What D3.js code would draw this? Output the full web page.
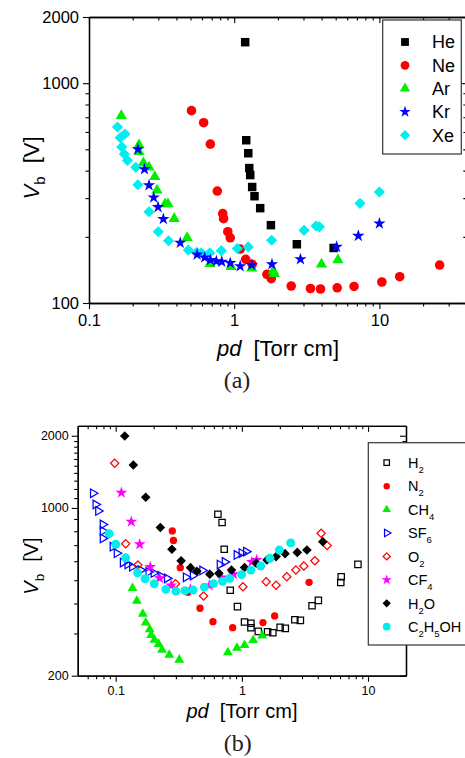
<!DOCTYPE html>
<html>
<head>
<meta charset="utf-8">
<script src="https://cdn.jsdelivr.net/npm/d3@7"></script>
<style>
  html, body { margin: 0; padding: 0; background: #fff; }
  svg { display: block; }
  text { font-family: "Liberation Sans", Arial, Helvetica, sans-serif; fill: #000; }
</style>
</head>
<body>
<svg id="fig" width="465" height="758"></svg>
<script>
// ---------- panel (a): rare gases, [pd (Torr cm), Vb (V)] ----------
const he = [[1.19,1536],[1.21,550],[1.25,480],[1.27,411],[1.29,382],[1.33,337],[1.38,306],[1.51,270],[1.79,226],[2.70,185],[4.84,178]];
const ne = [[0.508,750],[0.616,661],[0.685,528],[0.765,323],[0.834,255],[0.845,242],[0.903,211],[0.939,198],[1.10,176],[1.20,158],[1.33,150],[1.68,135],[1.80,129],[2.47,119.5],[3.35,116.4],[3.93,115.8],[5.12,117.3],[6.69,118.9],[10.4,124.6],[13.8,131.7],[26.0,148.8]];
const ar = [[0.167,711],[0.221,523],[0.221,487],[0.237,433],[0.259,415],[0.284,375],[0.294,326],[0.334,282],[0.350,282],[0.386,242],[0.474,198],[0.682,151],[0.953,146],[1.32,144],[1.86,140],[1.89,136],[3.99,150],[5.18,157]];
const kr = [[0.217,501],[0.241,406],[0.259,343],[0.279,302],[0.299,273],[0.325,241],[0.425,188],[0.555,166],[0.626,161],[0.685,157],[0.753,155],[0.821,154],[0.939,152],[1.10,147],[1.32,149],[1.82,150],[2.86,158],[5.07,180],[7.16,202],[10.0,230]];
const xe = [[0.157,632],[0.177,587],[0.164,565],[0.168,513],[0.175,476],[0.184,445],[0.210,414],[0.217,345],[0.259,260],[0.300,211],[0.353,192],[0.483,174],[0.552,170],[0.594,169],[0.679,169],[0.815,173],[1.05,177],[1.25,180],[1.81,193],[3.03,214],[3.66,224],[3.86,222],[7.35,284],[10.0,320]];

// ---------- panel (b): molecular gases ----------
const h2 = [[0.646,941],[0.697,870],[0.725,673],[0.809,454],[0.923,388],[1.05,335],[1.18,331],[1.18,317],[1.35,306],[1.60,305],[1.76,302],[2.01,318],[2.21,315],[2.63,342],[2.91,340],[3.60,391],[4.04,412],[6.08,489],[6.13,517],[8.32,582]];
const n2 = [[0.281,802],[0.287,732],[0.325,564],[0.374,445],[0.466,382],[0.590,336],[0.846,317],[1.47,333],[1.82,355],[3.41,490]];
const ch4 = [[0.136,463],[0.147,410],[0.164,362],[0.173,333],[0.186,312],[0.191,295],[0.203,282],[0.219,271],[0.233,256],[0.266,244],[0.319,233],[0.775,250],[0.915,261],[1.05,268],[1.23,281],[1.45,294]];
const sf6 = [[0.0661,1151],[0.0693,1034],[0.0727,972],[0.079,854],[0.079,802],[0.079,747],[0.0947,690],[0.102,648],[0.114,592],[0.124,582],[0.135,569],[0.158,551],[0.182,541],[0.200,536],[0.227,521],[0.255,509],[0.360,514],[0.409,523],[0.486,549],[0.668,581],[0.732,596],[0.910,637],[0.996,649],[1.08,658]];
const o2 = [[0.0982,1536],[0.120,710],[0.150,579],[0.298,483],[0.497,430],[1.02,470],[1.56,493],[1.87,476],[2.27,517],[2.68,551],[3.10,573],[3.79,602],[4.25,784],[4.74,697]];
const cf4 = [[0.111,1158],[0.133,877],[0.155,706],[0.188,568],[0.223,510],[0.275,475],[0.391,458],[0.552,476],[0.690,513],[0.859,530],[1.20,596],[1.31,607]];
const h2o = [[0.118,1995],[0.138,1511],[0.173,1108],[0.226,829],[0.279,673],[0.330,602],[0.392,564],[0.440,545],[0.557,530],[0.658,534],[0.828,551],[1.05,565],[1.30,588],[1.58,607],[1.87,627],[2.20,645],[2.75,653],[3.28,668],[4.38,724]];
const c2h5oh = [[0.0889,781],[0.100,706],[0.120,620],[0.149,537],[0.171,507],[0.202,483],[0.250,458],[0.300,450],[0.354,452],[0.411,455],[0.504,468],[0.596,484],[0.703,494],[0.801,509],[0.996,527],[1.18,551],[1.41,573],[1.67,617],[1.98,668],[2.44,715]];

// ---------- axis ticks ----------
const topXTicks = [0.1, 1, 10];
const topYTicks = [100, 1000, 2000];
const topXMinor = [0.2,0.3,0.4,0.5,0.6,0.7,0.8,0.9,2,3,4,5,6,7,8,9,20,30];
const topYMinor = [200,300,400,500,600,700,800,900];
const botXTicks = [0.1, 1, 10];
const botYTicks = [200, 1000, 2000];
const botXMinor = [0.06,0.07,0.08,0.09,0.2,0.3,0.4,0.5,0.6,0.7,0.8,0.9,2,3,4,5,6,7,8,9];
const botYMinor = [300,400,500,600,700,800,900,1100,1200,1300,1400,1500,1600,1700,1800,1900];

const svg = d3.select("#fig");

const symbolTypes = {
  square: d3.symbolSquare, diamond: d3.symbolSquare, circle: d3.symbolCircle,
  triangle: d3.symbolTriangle, triRight: d3.symbolTriangle, star: d3.symbolStar
};
const symbolRot = { diamond: 45, triRight: 90 };

function markerPath(shape, size) { return d3.symbol(symbolTypes[shape], size)(); }

function placeMarker(sel, s, size) {
  sel.attr("d", markerPath(s.shape, size))
     .attr("fill", s.open ? "none" : s.color)
     .attr("stroke", s.open ? s.color : "none")
     .attr("stroke-width", s.open ? 1.25 : 0);
}

function panel(p) {
  const x = d3.scaleLog().domain(p.xDomain).range([p.left, p.right]);
  const y = d3.scaleLog().domain(p.yDomain).range([p.bottom, p.top]);
  const g = svg.append("g");

  // data markers, painted in the given stacking order
  const marks = g.append("g");
  const order = p.drawOrder || p.series.map(s => s.name);
  order.map(n => p.series.find(s => s.name === n)).forEach(s => {
    marks.append("g").selectAll("path").data(s.data).join("path")
      .call(placeMarker, s, s.size)
      .attr("transform", d => `translate(${x(d[0])},${y(d[1])}) rotate(${symbolRot[s.shape] || 0})`);
  });

  // frame with outward ticks on bottom/left and inward mirrored ticks on top/right
  const ax = (gen, tx, ty) => g.append("g").attr("transform", `translate(${tx},${ty})`).call(gen);
  const fmt = d => String(d);
  const axes = [
    ax(d3.axisBottom(x).tickValues(p.xTicks).tickFormat(fmt).tickSize(6).tickSizeOuter(0).tickPadding(p.xPad), 0, p.bottom),
    ax(d3.axisBottom(x).tickValues(p.xMinor).tickFormat("").tickSize(3.5).tickSizeOuter(0), 0, p.bottom),
    ax(d3.axisTop(x).tickValues(p.xTicks).tickFormat("").tickSize(-6).tickSizeOuter(0), 0, p.top),
    ax(d3.axisTop(x).tickValues(p.xMinor).tickFormat("").tickSize(-3.5).tickSizeOuter(0), 0, p.top),
    ax(d3.axisLeft(y).tickValues(p.yTicks).tickFormat(fmt).tickSize(6).tickSizeOuter(0).tickPadding(p.yPad), p.left, 0),
    ax(d3.axisLeft(y).tickValues(p.yMinor).tickFormat("").tickSize(3.5).tickSizeOuter(0), p.left, 0),
    ax(d3.axisRight(y).tickValues(p.yTicks).tickFormat("").tickSize(-6).tickSizeOuter(0), p.right, 0),
    ax(d3.axisRight(y).tickValues(p.yMinor).tickFormat("").tickSize(-3.5).tickSizeOuter(0), p.right, 0)
  ];
  axes.forEach(a => {
    a.attr("font-family", null).attr("font-size", null);
    a.select(".domain").attr("stroke", "#000").attr("stroke-width", 1.3);
    a.selectAll(".tick line").attr("stroke", "#000").attr("stroke-width", 1.1);
    a.selectAll(".tick text").attr("fill", "#000").style("font-size", p.tickFont + "px");
  });

  // legend
  const L = p.legend;
  const lg = svg.append("g");
  lg.append("rect").attr("x", L.x).attr("y", L.y).attr("width", L.w).attr("height", L.h)
    .attr("fill", "#fff").attr("stroke", "#333").attr("stroke-width", 1.2);
  p.series.forEach((s, i) => {
    const cy = L.row0 + i * L.step;
    lg.append("path").call(placeMarker, s, s.size * L.symScale)
      .attr("transform", `translate(${L.symX},${cy}) rotate(${symbolRot[s.shape] || 0})`);
    const t = lg.append("text").attr("x", L.textX).attr("y", cy).attr("dy", "0.36em")
      .style("font-size", L.font + "px");
    // digits in formulas are set as subscripts
    let low = false;
    s.name.match(/\d+|\D+/g).forEach(part => {
      const isSub = /\d/.test(part);
      const ts = t.append("tspan").text(part);
      if (isSub && !low) { ts.attr("dy", L.subShift).style("font-size", L.subFont + "px"); low = true; }
      else if (!isSub && low) { ts.attr("dy", -L.subShift); low = false; }
    });
  });

  // axis titles
  const xt = svg.append("text").attr("x", p.xTitle.x).attr("y", p.xTitle.y)
    .attr("text-anchor", "middle").style("font-size", p.titleFont + "px");
  xt.append("tspan").attr("font-style", "italic").text("pd");
  xt.append("tspan").attr("dx", p.titleFont * 0.55).text("[Torr cm]");

  const yt = svg.append("text").attr("text-anchor", "middle")
    .attr("transform", `translate(${p.yTitle.x},${p.yTitle.y}) rotate(-90)`)
    .style("font-size", p.titleFont + "px");
  yt.append("tspan").attr("font-style", "italic").text("V");
  yt.append("tspan").attr("dy", p.titleFont * 0.28).style("font-size", (p.titleFont * 0.68) + "px").text("b");
  yt.append("tspan").attr("dy", -p.titleFont * 0.28).attr("dx", p.titleFont * 0.6).text("[V]");

  svg.append("text").attr("x", p.tag.x).attr("y", p.tag.y).attr("text-anchor", "middle")
    .style("font-family", "'Liberation Serif','DejaVu Serif',serif").style("font-size", "24px")
    .style("fill", "#222").text(p.tag.text);
}

panel({
  xDomain: [0.1, 40], yDomain: [100, 2000],
  left: 89, right: 89 + 145.2 * Math.log10(400), top: 17, bottom: 303,
  xTicks: topXTicks, xMinor: topXMinor, yTicks: topYTicks, yMinor: topYMinor,
  xPad: 5, yPad: 4, tickFont: 16.5, titleFont: 22,
  series: [
    { name: "He", data: he, shape: "square",   size: 72, color: "#000000" },
    { name: "Ne", data: ne, shape: "circle",   size: 72, color: "#ff0000" },
    { name: "Ar", data: ar, shape: "triangle", size: 55, color: "#00ee00" },
    { name: "Kr", data: kr, shape: "star",     size: 48, color: "#0000ff" },
    { name: "Xe", data: xe, shape: "diamond",  size: 62, color: "#00eeee" }
  ],
  drawOrder: ["He", "Ne", "Ar", "Xe", "Kr"],
  legend: { x: 382.7, y: 20, w: 78.6, h: 134, symX: 405, textX: 432, row0: 42, step: 23.3,
            font: 18, subFont: 12, subShift: 5, symScale: 0.85 },
  xTitle: { x: 278, y: 356 }, yTitle: { x: 39, y: 168 },
  tag: { x: 237, y: 388, text: "(a)" }
});

panel({
  xDomain: [0.05, 20], yDomain: [200, 2200],
  left: 77.7, right: 406, top: 425.8, bottom: 675.7,
  xTicks: botXTicks, xMinor: botXMinor, yTicks: botYTicks, yMinor: botYMinor,
  xPad: 4, yPad: 3, tickFont: 12.5, titleFont: 20,
  series: [
    { name: "H2",     data: h2,     shape: "square",   size: 40, color: "#000000", open: true },
    { name: "N2",     data: n2,     shape: "circle",   size: 42, color: "#ff0000" },
    { name: "CH4",    data: ch4,    shape: "triangle", size: 42, color: "#00ee00" },
    { name: "SF6",    data: sf6,    shape: "triRight", size: 32, color: "#0000ff", open: true },
    { name: "O2",     data: o2,     shape: "diamond",  size: 34, color: "#ff0000", open: true },
    { name: "CF4",    data: cf4,    shape: "star",     size: 44, color: "#ff00ff" },
    { name: "H2O",    data: h2o,    shape: "diamond",  size: 46, color: "#000000" },
    { name: "C2H5OH", data: c2h5oh, shape: "circle",   size: 62, color: "#00eeee" }
  ],
  legend: { x: 368.3, y: 442.7, w: 120, h: 202.3, symX: 386.7, textX: 408, row0: 462.7, step: 23.43,
            font: 14.5, subFont: 9.5, subShift: 5, symScale: 0.75 },
  xTitle: { x: 242, y: 718 }, yTitle: { x: 38, y: 566 },
  tag: { x: 237.7, y: 750.5, text: "(b)" }
});
</script>
</body>
</html>
